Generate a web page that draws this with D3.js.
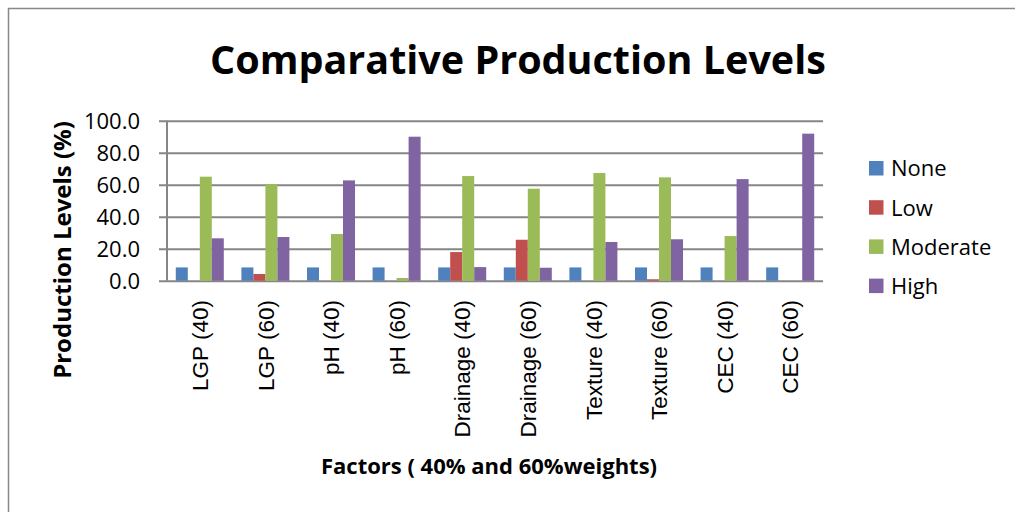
<!DOCTYPE html>
<html>
<head>
<meta charset="utf-8">
<script src="https://cdn.jsdelivr.net/npm/d3@7"></script>
<style>
  html, body { margin: 0; padding: 0; background: #fff; }
  svg { display: block; }
</style>
</head>
<body>
<svg id="chart" width="1015" height="512"></svg>
<script>
// Factors and weights
const categories = ["LGP (40)", "LGP (60)", "pH (40)", "pH (60)", "Drainage (40)",
  "Drainage (60)", "Texture (40)", "Texture (60)", "CEC (40)", "CEC (60)"];
const seriesNames = ["None", "Low", "Moderate", "High"];
const noneValues = [8.3, 8.3, 8.3, 8.3, 8.3, 8.3, 8.3, 8.3, 8.3, 8.3];
const lowValues = [0, 4.2, 0, 0, 17.9, 25.6, 0, 0.9, 0, 0];
const moderateValues = [65.0, 60.4, 29.2, 1.7, 65.4, 57.5, 67.3, 64.6, 27.9, 0];
const highValues = [26.5, 27.3, 62.7, 90.0, 8.5, 8.1, 24.2, 25.9, 63.5, 91.9];
const yTicks = [0, 20, 40, 60, 80, 100];
const colors = ["#4F81BD", "#C0504D", "#9BBB59", "#8064A2"];

const seriesValues = [noneValues, lowValues, moderateValues, highValues];

const svg = d3.select("#chart");
const sansC = "'Open Sans', 'Noto Sans', sans-serif";
const sansA = "'Liberation Sans', Arial, sans-serif";

// outer frame
svg.append("path")
  .attr("d", "M8.5,520 V8.5 H1030")
  .attr("fill", "none")
  .attr("stroke", "#888")
  .attr("stroke-width", 1.5);

const plot = { left: 167, right: 823, top: 120.7, bottom: 280.7 };

const x = d3.scaleBand()
  .domain(categories)
  .range([plot.left, plot.right])
  .paddingInner(0.268)
  .paddingOuter(0.134);

const xs = d3.scaleBand()
  .domain(seriesNames)
  .range([0, x.bandwidth()])
  .padding(0);

const y = d3.scaleLinear().domain([0, 100]).range([plot.bottom, plot.top]);

// gridlines, extended past the axis as tick marks
const gy = svg.append("g")
  .attr("transform", `translate(${plot.right},0)`);
gy.call(d3.axisLeft(y).tickValues(yTicks).tickSize(plot.right - plot.left + 8).tickFormat(""));
gy.select(".domain").remove();
gy.selectAll(".tick line").attr("stroke", "#868686").attr("stroke-width", 2);

// vertical axis line
svg.append("line")
  .attr("x1", plot.left).attr("x2", plot.left)
  .attr("y1", plot.top).attr("y2", plot.bottom)
  .attr("stroke", "#868686").attr("stroke-width", 2);

// y tick labels
svg.append("g").selectAll("text")
  .data(yTicks)
  .join("text")
  .attr("x", 140)
  .attr("y", d => y(d))
  .attr("dy", "0.36em")
  .attr("text-anchor", "end")
  .attr("font-family", sansC)
  .attr("font-size", 22)
  .attr("fill", "#000")
  .text(d => d3.format(".1f")(d));

// bars
const groups = svg.append("g").selectAll("g")
  .data(categories)
  .join("g")
  .attr("transform", d => `translate(${x(d)},0)`);

groups.selectAll("rect")
  .data((d, i) => seriesNames.map((s, j) => ({ s, j, v: seriesValues[j][i] })))
  .join("rect")
  .attr("x", d => xs(d.s))
  .attr("width", xs.bandwidth())
  .attr("y", d => y(d.v))
  .attr("height", d => y(0) - y(d.v))
  .attr("fill", d => colors[d.j]);

// category labels (rotated)
svg.append("g").selectAll("text")
  .data(categories)
  .join("text")
  .attr("transform", d => `translate(${x(d) + x.bandwidth() / 2},300) rotate(-90)`)
  .attr("dy", "0.36em")
  .attr("text-anchor", "end")
  .attr("font-family", sansA)
  .attr("font-size", 22.5)
  .attr("fill", "#000")
  .text(d => d);

// title
svg.append("text")
  .attr("x", 518).attr("y", 74)
  .attr("text-anchor", "middle")
  .attr("font-family", sansC)
  .attr("font-weight", "bold")
  .attr("font-size", 39.5)
  .attr("fill", "#000")
  .text("Comparative Production Levels");

// axis titles
svg.append("text")
  .attr("transform", "translate(71,250) rotate(-90)")
  .attr("text-anchor", "middle")
  .attr("font-family", sansC)
  .attr("font-weight", "bold")
  .attr("font-size", 24)
  .attr("fill", "#000")
  .text("Production Levels (%)");

svg.append("text")
  .attr("x", 489).attr("y", 474)
  .attr("text-anchor", "middle")
  .attr("font-family", sansC)
  .attr("font-weight", "bold")
  .attr("font-size", 22)
  .attr("fill", "#000")
  .text("Factors ( 40% and 60%weights)");

// legend
const legend = svg.append("g").selectAll("g")
  .data(seriesNames)
  .join("g")
  .attr("transform", (d, i) => `translate(869,${161 + i * 39.2})`);
legend.append("rect")
  .attr("width", 14.5).attr("height", 14.5)
  .attr("fill", (d, i) => colors[i]);
legend.append("text")
  .attr("x", 22).attr("y", 7.5)
  .attr("dy", "0.36em")
  .attr("font-family", sansC)
  .attr("font-size", 22)
  .attr("fill", "#000")
  .text(d => d);
</script>
</body>
</html>
